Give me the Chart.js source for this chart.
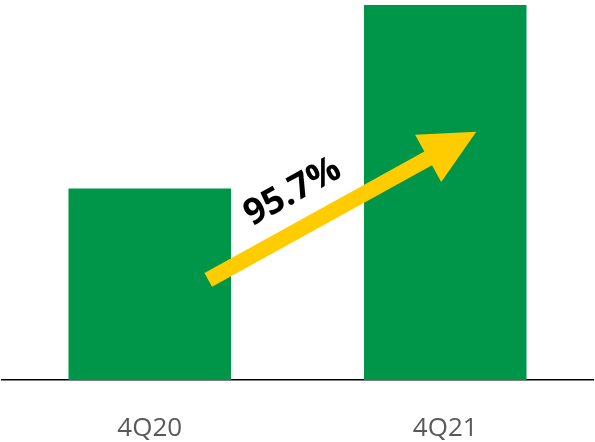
<!DOCTYPE html>
<html>
<head>
<meta charset="utf-8">
<script src="https://cdn.jsdelivr.net/npm/chart.js@4/dist/chart.umd.min.js"></script>
<style>
  html, body { margin: 0; padding: 0; background: #ffffff; }
  #wrap { width: 595px; height: 442px; }
</style>
</head>
<body>
<div id="wrap"><canvas id="chart" width="595" height="442"></canvas></div>
<script>
// Quarterly figures, indexed to 4Q20 = 100
const quarters = ['4Q20', '4Q21'];
const values = [100, 195.7];

// Growth arrow, given in data space: [category index, value]
const arrowTail = [0.198, 52.2];
const arrowTip = [1.105, 129.6];

const growthPct = ((values[1] / values[0] - 1) * 100).toFixed(1) + '%';

const GREEN = '#009649';
const YELLOW = '#FFCC00';

const growthArrow = {
  id: 'growthArrow',
  afterDatasetsDraw(chart) {
    const { ctx, scales: { x, y } } = chart;
    const x0 = x.getPixelForValue(arrowTail[0]);
    const y0 = y.getPixelForValue(arrowTail[1]);
    const x1 = x.getPixelForValue(arrowTip[0]);
    const y1 = y.getPixelForValue(arrowTip[1]);
    const len = Math.hypot(x1 - x0, y1 - y0);
    const ang = Math.atan2(y1 - y0, x1 - x0);

    const shaft = 15.7, headW = 54, headL = 55;

    ctx.save();
    ctx.translate(x0, y0);
    ctx.rotate(ang);
    ctx.fillStyle = YELLOW;
    ctx.beginPath();
    ctx.moveTo(0, -shaft / 2);
    ctx.lineTo(len - headL, -shaft / 2);
    ctx.lineTo(len - headL, -headW / 2);
    ctx.lineTo(len, 0);
    ctx.lineTo(len - headL, headW / 2);
    ctx.lineTo(len - headL, shaft / 2);
    ctx.lineTo(0, shaft / 2);
    ctx.closePath();
    ctx.fill();

    // growth label, sitting above the shaft
    ctx.fillStyle = '#000000';
    ctx.font = 'bold 36px "Open Sans", sans-serif';
    ctx.textAlign = 'center';
    ctx.textBaseline = 'middle';
    ctx.fillText(growthPct, len * 0.38, -36);
    ctx.restore();
  }
};

new Chart(document.getElementById('chart'), {
  type: 'bar',
  data: {
    labels: quarters,
    datasets: [{
      data: values,
      backgroundColor: GREEN,
      borderWidth: 0,
      categoryPercentage: 1,
      barPercentage: 0.55
    }]
  },
  options: {
    responsive: false,
    animation: false,
    devicePixelRatio: 1,
    layout: { padding: { top: 5, left: 2, right: 2, bottom: 0 } },
    plugins: { legend: { display: false }, tooltip: { enabled: false } },
    scales: {
      x: {
        grid: { display: false, drawTicks: false },
        border: { display: true, color: '#000000', width: 1.5 },
        ticks: {
          color: '#595959',
          padding: 33,
          font: { family: '"Open Sans", sans-serif', size: 26 }
        },
        afterFit(scale) { scale.height = 62; }
      },
      y: {
        display: false,
        min: 0,
        max: Math.max(...values)
      }
    }
  },
  plugins: [growthArrow]
});
</script>
</body>
</html>
